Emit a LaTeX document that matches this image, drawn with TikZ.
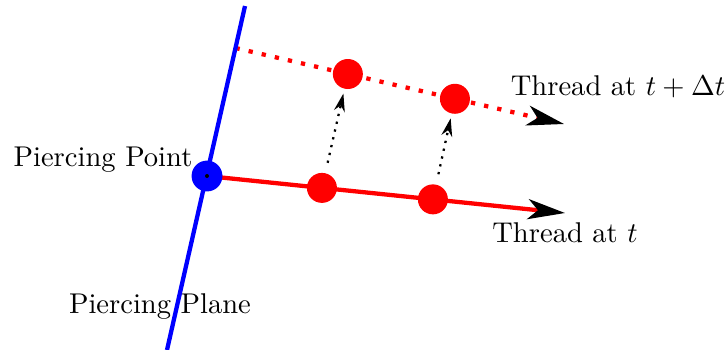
\documentclass[tikz,border=0pt]{standalone}
\usetikzlibrary{arrows.meta}
\begin{document}
\begin{tikzpicture}[x=0.35pt,y=-0.35pt,
  reddot/.style={circle,fill=red,inner sep=0pt,minimum size=10.5pt},
  bluedot/.style={circle,fill=blue,inner sep=0pt,minimum size=10.8pt},
  lbl/.style={anchor=base,inner sep=0pt},
  thread/.style={red,line width=1.5pt,-{Stealth[black,length=13pt,width=7pt,inset=3.5pt]}},
  motion/.style={black,thick,dotted,-{Stealth[length=6.3pt,width=3.8pt]},shorten <=3pt,shorten >=1pt}
]
\useasboundingbox (0,0) rectangle (728,349);
% labels (under the plane line)
\node[lbl] (pp) at (103,166) {Piercing Point};
\node[lbl] (pl) at (160,313) {Piercing Plane};
\node[lbl] (t1) at (565,242) {Thread at $t$};
\node[lbl] (t2) at (618,95) {Thread at $t+\Delta t$};
% geometry
\coordinate (ptop) at (245,6);
\coordinate (pbot) at (167,350);
\coordinate (P) at (207,176);
\coordinate (A) at (565,213);
\coordinate (S) at (235.5,48);
\coordinate (B) at (564,124);
% threads
\draw[thread] (P) -- (A)
  node[reddot,pos=0.321] (r1) {}
  node[reddot,pos=0.631] (r2) {};
\draw[thread,dash pattern=on 1.5pt off 3.2pt] (S) -- (B)
  node[reddot,pos=0.342] (d1) {}
  node[reddot,pos=0.668] (d2) {};
% motion arrows
\draw[motion] (r1) -- (d1);
\draw[motion] (r2) -- (d2);
% plane and piercing point
\draw[blue,line width=1.5pt] (ptop) -- (pbot);
\node[bluedot] (pp0) at (P) {};
\fill[black] (P) circle (0.7pt);
\end{tikzpicture}
\end{document}
